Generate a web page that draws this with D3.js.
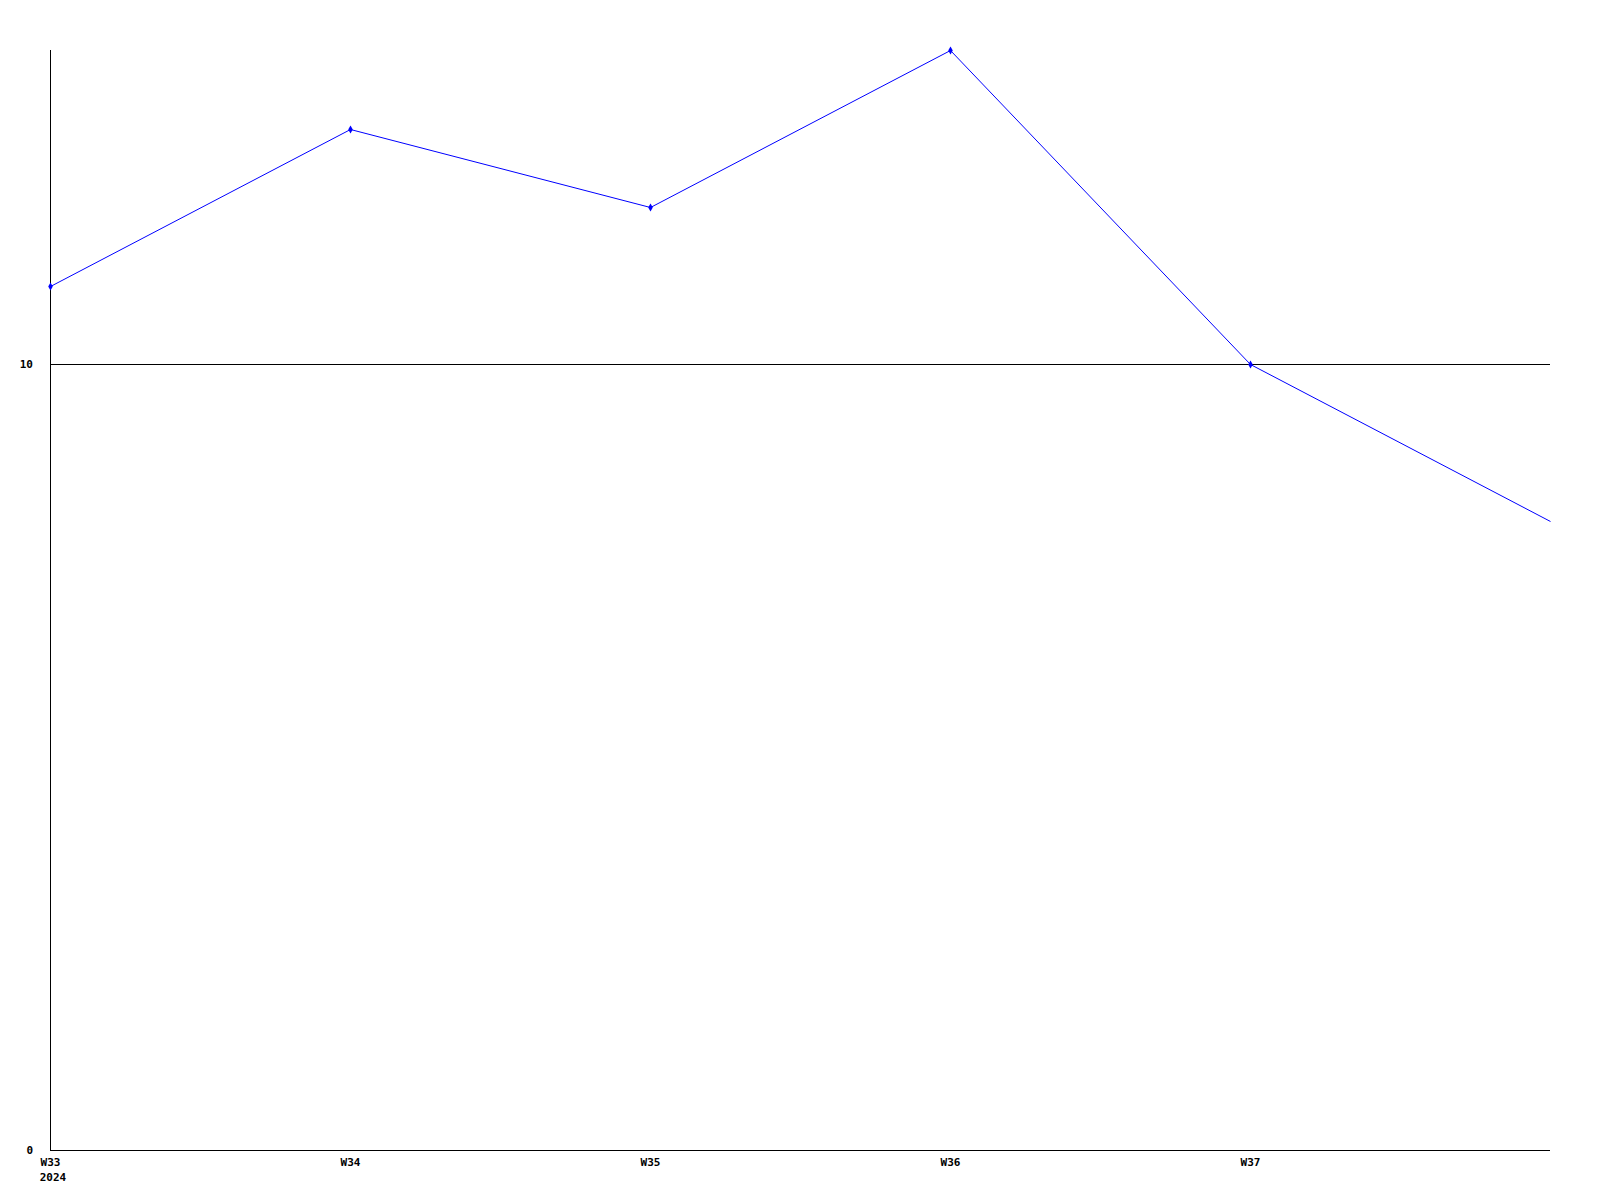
<!DOCTYPE html>
<html><head><meta charset="utf-8">
<script src="https://cdn.jsdelivr.net/npm/d3@7"></script>
<style>body{margin:0;background:#fff}svg{display:block}text{font-family:"DejaVu Sans Mono",monospace;font-weight:bold;font-size:11px;fill:#000}</style>
</head><body><svg id="c" width="1600" height="1200"></svg>
<script>
const weeks = ["W33","W34","W35","W36","W37","W38"];
const values = [11, 13, 12, 14, 10, 8];
const yTicks = [0, 10];
const yearLabel = "2024";

const svg = d3.select("#c");
const x = d3.scalePoint().domain(weeks).range([50, 1550]);
const y = d3.scaleLinear().domain([0, 14]).range([1150, 50]);

svg.selectAll("line.grid").data(yTicks.filter(d=>d>0)).enter().append("line")
  .attr("x1",50).attr("x2",1550).attr("y1",d=>Math.round(y(d))+0.5).attr("y2",d=>Math.round(y(d))+0.5)
  .attr("stroke","#000").attr("stroke-width",1);
svg.append("line").attr("x1",50.5).attr("x2",50.5).attr("y1",50).attr("y2",1150).attr("stroke","#000");
svg.append("line").attr("x1",50).attr("x2",1550).attr("y1",1150.5).attr("y2",1150.5).attr("stroke","#000");

svg.selectAll("text.yl").data(yTicks).enter().append("text")
  .attr("x",33).attr("y",d=>Math.round(y(d))+4).attr("text-anchor","end").text(d=>d);
svg.selectAll("text.xl").data(weeks.slice(0,5)).enter().append("text")
  .attr("x",d=>x(d)+0.5).attr("y",1166).attr("text-anchor","middle").text(d=>d);
svg.append("text").attr("x",x(weeks[0])+3).attr("y",1181).attr("text-anchor","middle").text(yearLabel);

const line = d3.line().x((d,i)=>x(weeks[i])+0.5).y(d=>Math.round(y(d))+0.5);
svg.append("path").datum(values).attr("d",line).attr("fill","none").attr("stroke","#0000ff").attr("stroke-width",1);
svg.selectAll("path.m").data(values.slice(0,5)).enter().append("path")
  .attr("transform",(d,i)=>`translate(${x(weeks[i])+0.5},${Math.round(y(d))+0.5})`)
  .attr("d",d3.symbol(d3.symbolDiamond,18)).attr("fill","#0000ff");
</script></body></html>
